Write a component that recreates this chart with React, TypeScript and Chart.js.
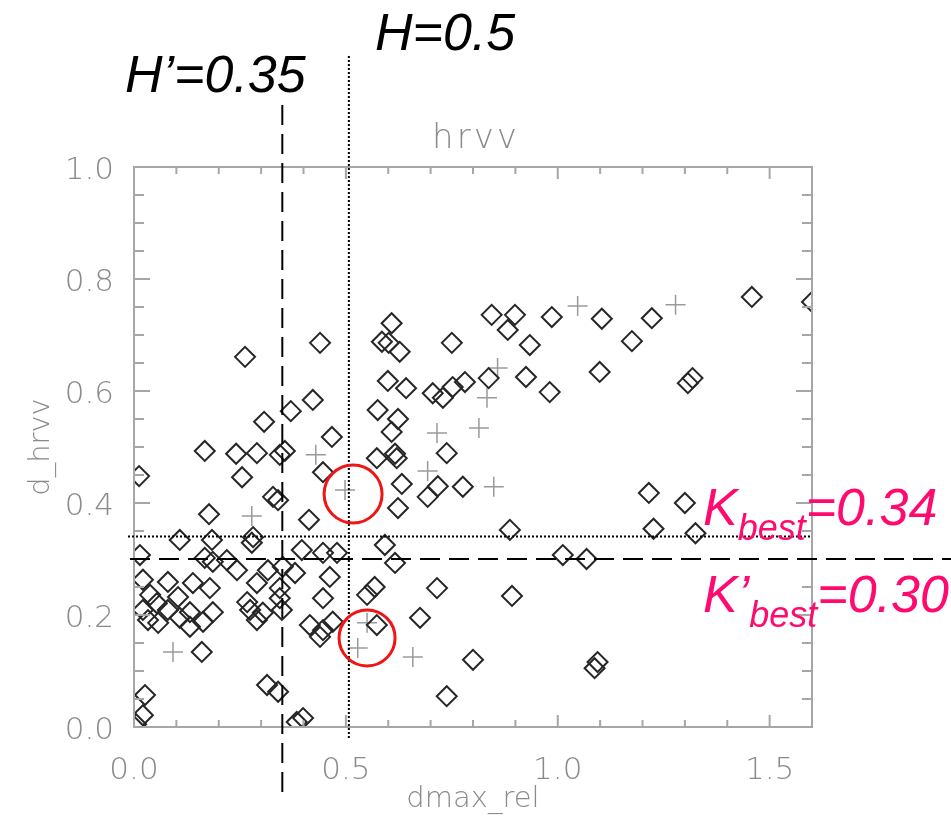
import React, { useEffect, useRef } from "react";
import { Chart, registerables } from "chart.js";

Chart.register(...registerables);

// ---- data ----
const diamondX = [
  1.6, 1.458, 1.104, 1.175, 1.222, 0.608, 0.585, 0.601, 0.75, 0.844, 0.899, 0.882, 0.986, 0.934,
  0.262, 0.439, 0.422, 0.37, 0.307, 0.467, 0.167, 0.241, 0.29, 0.344, 0.356, 0.255, 0.446, 0.012,
  0.328, 0.34, 0.177, 0.413,
  0.627, 0.599, 0.642, 0.705, 0.729, 0.752, 0.781, 0.837, 0.925, 0.981, 1.099, 0.575, 0.623, 0.608,
  0.738, 0.573, 0.616, 0.62, 0.632, 0.623, 0.717, 0.693, 0.776, 0.887,
  1.318, 1.307, 1.215, 1.3, 1.226, 1.325,
  0.108, 0.184, 0.281, 0.278, 0.014, 0.167, 0.186, 0.219, 0.243, 0.316, 0.351, 0.396, 0.446, 0.479,
  0.38, 0.462, 0.021, 0.08, 0.139, 0.179, 0.29, 0.344, 0.038, 0.104, 0.054, 0.267, 0.344, 0.446,
  0.021, 0.08, 0.132, 0.186, 0.274, 0.304, 0.349, 0.033, 0.057, 0.108, 0.132, 0.163, 0.29, 0.415,
  0.446, 0.469, 0.439, 0.16, 0.314, 0.34, 0.026, 0.021, 0.005, 0.384, 0.399,
  0.592, 0.616, 1.012, 1.068, 0.568, 0.55, 0.715, 0.892, 0.675, 0.573, 0.8, 0.738, 1.094, 1.087,
];
const diamondY = [
  0.759, 0.768, 0.729, 0.689, 0.73, 0.721, 0.688, 0.686, 0.686, 0.736, 0.736, 0.709, 0.732, 0.682,
  0.661, 0.686, 0.584, 0.564, 0.545, 0.518, 0.493, 0.488, 0.489, 0.486, 0.493, 0.446, 0.455, 0.448,
  0.411, 0.405, 0.38, 0.37,
  0.67, 0.618, 0.605, 0.596, 0.588, 0.607, 0.616, 0.623, 0.625, 0.598, 0.634, 0.566, 0.55, 0.527,
  0.489, 0.48, 0.488, 0.48, 0.434, 0.391, 0.43, 0.411, 0.429, 0.352,
  0.623, 0.614, 0.418, 0.4, 0.354, 0.346,
  0.334, 0.334, 0.339, 0.329, 0.307, 0.302, 0.295, 0.298, 0.28, 0.28, 0.286, 0.316, 0.311, 0.311,
  0.275, 0.268, 0.263, 0.259, 0.257, 0.248, 0.257, 0.248, 0.236, 0.232, 0.221, 0.223, 0.23, 0.23,
  0.209, 0.209, 0.205, 0.205, 0.209, 0.204, 0.209, 0.191, 0.186, 0.195, 0.179, 0.188, 0.191, 0.182,
  0.173, 0.188, 0.161, 0.134, 0.075, 0.063, 0.057, 0.021, 0.005, 0.009, 0.016,
  0.325, 0.293, 0.307, 0.3, 0.25, 0.236, 0.248, 0.234, 0.195, 0.182, 0.12, 0.055, 0.116, 0.105,
];
const plusX = [1.047, 1.278, 0.858, 0.833, 0.715, 0.814, 0.693, 0.849, 0.429, 0.278, 0.498, 0.092, 0.55, 0.528, 0.658];
const plusY = [0.752, 0.754, 0.641, 0.588, 0.525, 0.534, 0.457, 0.429, 0.486, 0.377, 0.423, 0.134, 0.186, 0.141, 0.125];

// threshold lines
const hPrime = 0.35;
const hLine = 0.507;
const kBest = 0.34;
const kPrimeBest = 0.3;
// highlighted points (circle centres)
const circleX = [0.517, 0.55];
const circleY = [0.416, 0.159];

const xMin = 0, xMax = 1.6, xStep = 0.1, xMajor = 0.5;
const yMin = 0, yMax = 1.0, yStep = 0.05, yMajor = 0.2;

const titleText = "hrvv";
const xTitle = "dmax_rel";
const yTitle = "d_hrvv";

const GRAY_TEXT = "#8a8a8a";
const GRAY_AXIS = "#a6a6a6";
const PINK = "#ff0a6e";
const TICK_FONT = { family: '"DejaVu Sans", sans-serif', size: 31, weight: "200" as any };
const TITLE_FONT = { family: '"DejaVu Sans", sans-serif', size: 29, weight: "200" as any };
const BIG = 'italic 52px "Liberation Sans", Arial, sans-serif';
const SUB = 'italic 36px "Liberation Sans", Arial, sans-serif';

const isMultiple = (v: number, step: number) => Math.abs(v / step - Math.round(v / step)) < 1e-6;

const framePlugin = {
  id: "idlFrame",
  afterDatasetsDraw(chart: any) {
    const { ctx, chartArea: a } = chart;
    const xs = chart.scales.x, ys = chart.scales.y;
    ctx.save();
    ctx.strokeStyle = GRAY_AXIS;
    ctx.lineWidth = 2;
    ctx.setLineDash([]);
    ctx.strokeRect(a.left, a.top, a.right - a.left, a.bottom - a.top);
    ctx.beginPath();
    xs.ticks.forEach((t: any) => {
      const p = xs.getPixelForValue(t.value);
      const len = isMultiple(t.value, xMajor) ? 12 : 7;
      ctx.moveTo(p, a.bottom); ctx.lineTo(p, a.bottom - len);
      ctx.moveTo(p, a.top); ctx.lineTo(p, a.top + len);
    });
    ys.ticks.forEach((t: any) => {
      const p = ys.getPixelForValue(t.value);
      const len = isMultiple(t.value, yMajor) ? 16 : 10;
      ctx.moveTo(a.left, p); ctx.lineTo(a.left + len, p);
      ctx.moveTo(a.right, p); ctx.lineTo(a.right - len, p);
    });
    ctx.stroke();
    ctx.restore();
  },
};

function drawKLabel(ctx: CanvasRenderingContext2D, x: number, base: number, main: string, rest: string) {
  ctx.fillStyle = PINK;
  ctx.textAlign = "left";
  ctx.textBaseline = "alphabetic";
  ctx.font = BIG;
  ctx.fillText(main, x, base);
  let cx = x + ctx.measureText(main).width;
  ctx.font = SUB;
  ctx.fillText("best", cx, base + 15);
  cx += ctx.measureText("best").width;
  ctx.font = BIG;
  ctx.fillText(rest, cx, base);
}

const annotationPlugin = {
  id: "annotations",
  afterDraw(chart: any) {
    const { ctx, chartArea: a, width } = chart;
    const xs = chart.scales.x, ys = chart.scales.y;
    ctx.save();
    // title
    ctx.fillStyle = GRAY_TEXT;
    ctx.font = '200 34px "DejaVu Sans", sans-serif';
    (ctx as any).letterSpacing = "3px";
    ctx.textAlign = "center";
    ctx.textBaseline = "alphabetic";
    ctx.fillText(titleText, 476, 148);
    (ctx as any).letterSpacing = "0px";

    ctx.strokeStyle = "#000";
    ctx.lineWidth = 2;
    // H' dashed vertical
    const xh1 = xs.getPixelForValue(hPrime);
    ctx.setLineDash([20, 9]);
    ctx.beginPath(); ctx.moveTo(xh1, 105); ctx.lineTo(xh1, 793); ctx.stroke();
    // K' dashed horizontal
    const yk2 = ys.getPixelForValue(kPrimeBest);
    ctx.beginPath(); ctx.moveTo(a.left - 4, yk2); ctx.lineTo(width, yk2); ctx.stroke();
    // H dotted vertical
    ctx.setLineDash([2, 2]);
    const xh = xs.getPixelForValue(hLine);
    ctx.beginPath(); ctx.moveTo(xh, 56); ctx.lineTo(xh, 740); ctx.stroke();
    // K dotted horizontal
    const yk = ys.getPixelForValue(kBest);
    ctx.beginPath(); ctx.moveTo(a.left - 6, yk); ctx.lineTo(a.right, yk); ctx.stroke();
    ctx.setLineDash([]);

    // red circles
    ctx.strokeStyle = "#f01414";
    ctx.lineWidth = 3;
    const radii = [29, 28];
    circleX.forEach((cx, i) => {
      ctx.beginPath();
      ctx.arc(xs.getPixelForValue(cx), ys.getPixelForValue(circleY[i]), radii[i], 0, Math.PI * 2);
      ctx.stroke();
    });

    // H labels
    ctx.fillStyle = "#000";
    ctx.font = BIG;
    ctx.textAlign = "left";
    ctx.fillText("H\u2019=0.35", 125, 92);
    ctx.fillText("H=0.5", 375, 50);

    // K labels
    drawKLabel(ctx, 703, 525, "K", "=0.34");
    drawKLabel(ctx, 703, 612, "K\u2019", "=0.30");
    ctx.restore();
  },
};

export default function App() {
  const ref = useRef<HTMLCanvasElement | null>(null);
  useEffect(() => {
    if (!ref.current) return;
    const chart = new Chart(ref.current, {
      type: "scatter",
      data: {
        datasets: [
          {
            label: "diamonds",
            data: diamondX.map((x, i) => ({ x, y: diamondY[i] })),
            pointStyle: "rectRot",
            pointRadius: 10,
            pointHoverRadius: 10,
            borderWidth: 2,
            borderColor: "#262626",
            pointBorderColor: "#262626",
            backgroundColor: "rgba(0,0,0,0)",
            pointBackgroundColor: "rgba(0,0,0,0)",
            clip: 0,
          } as any,
          {
            label: "plus",
            data: plusX.map((x, i) => ({ x, y: plusY[i] })),
            pointStyle: "cross",
            pointRadius: 10,
            pointHoverRadius: 10,
            borderWidth: 1.5,
            borderColor: "#9a9a9a",
            pointBorderColor: "#9a9a9a",
            backgroundColor: "rgba(0,0,0,0)",
            clip: 0,
          } as any,
        ],
      },
      options: {
        responsive: false,
        animation: false,
        devicePixelRatio: 1,
        events: [],
        layout: { padding: { left: 0, top: 167, right: 139, bottom: 0 } },
        plugins: { legend: { display: false }, tooltip: { enabled: false }, title: { display: false } },
        scales: {
          x: {
            type: "linear",
            min: xMin,
            max: xMax,
            grid: { display: false },
            border: { display: false },
            ticks: {
              stepSize: xStep,
              autoSkip: false,
              includeBounds: false,
              maxRotation: 0,
              padding: 17,
              color: GRAY_TEXT,
              font: TICK_FONT,
              callback: (v: any) => (isMultiple(Number(v), xMajor) ? Number(v).toFixed(1) : ""),
            },
            title: { display: true, text: xTitle, color: GRAY_TEXT, font: TITLE_FONT, padding: { top: 0, bottom: 0 } },
            afterFit: (s: any) => { s.height = 90; },
          },
          y: {
            type: "linear",
            min: yMin,
            max: yMax,
            grid: { display: false },
            border: { display: false },
            ticks: {
              stepSize: yStep,
              autoSkip: false,
              includeBounds: false,
              padding: 12,
              labelOffset: 4,
              color: GRAY_TEXT,
              font: TICK_FONT,
              callback: (v: any) => (isMultiple(Number(v), yMajor) ? Number(v).toFixed(1) : ""),
            },
            title: { display: true, text: yTitle, color: GRAY_TEXT, font: TITLE_FONT, padding: { top: 24, bottom: 0 } },
            afterFit: (s: any) => { s.width = 134; },
          },
        },
      } as any,
      plugins: [framePlugin, annotationPlugin],
    });
    return () => chart.destroy();
  }, []);
  return (
    <div style={{ position: "absolute", left: 0, top: 0, width: 951, height: 817, background: "#fff" }}>
      <canvas ref={ref} width={951} height={817} style={{ display: "block", width: 951, height: 817 }} />
    </div>
  );
}
